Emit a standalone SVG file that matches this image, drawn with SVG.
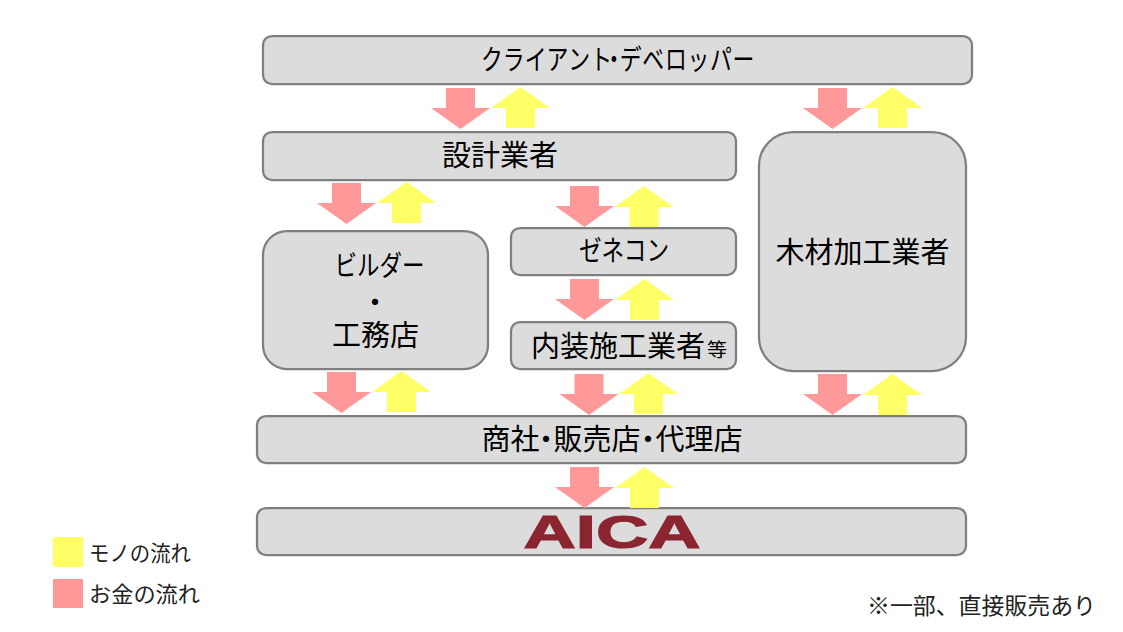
<svg xmlns="http://www.w3.org/2000/svg" width="1123" height="632" viewBox="0 0 1123 632">
<style>
text{font-family:"Noto Sans CJK JP","Noto Sans",sans-serif;fill:#000;text-anchor:middle}
.box{fill:#dcdcdc;stroke:#7f7f7f;stroke-width:2.25}
.t{font-size:29px}
.k{font-size:28px}
.s{text-anchor:start}
.l{font-size:22px;fill:#222;text-anchor:start}
.logo{font-family:"Liberation Sans",sans-serif;font-weight:700;font-size:46px;fill:#8b2530;stroke:#8b2530;stroke-width:1.2}
.pink{fill:#ff9999}
.yellow{fill:#ffff66}
</style>
<defs>
<path id="down" class="pink" d="M-14.5 0H14.5V20H29.5L0 41L-29.5 20H-14.5Z"/>
<path id="up" class="yellow" d="M0 0L29.5 21H14.5V41H-14.5V21H-29.5Z"/>
</defs>
<rect width="1123" height="632" fill="#fff"/>
<g id="node-client"><rect class="box" x="263" y="36" width="709" height="48" rx="9"/><text class="k s" transform="translate(481 70) scale(.78 1)" x="0 28 56 84 112 140 156.500 178 206.900 235.800 264.700 293.600 322.500">クライアント・デベロッパー</text></g>
<g id="node-design"><rect class="box" x="263" y="132" width="473" height="48" rx="9"/><text class="t" x="500" y="166">設計業者</text></g>
<g id="node-builder"><rect class="box" x="263" y="231" width="225" height="138" rx="24"/><text class="k" x="379.500" y="276" textLength="90" lengthAdjust="spacingAndGlyphs">ビルダー</text><text class="t s" x="360.500 332 361 390" y="313 346 346 346">・工務店</text></g>
<g id="node-genecon"><rect class="box" x="511" y="228" width="225" height="47" rx="9"/><text class="k" x="624" y="261" textLength="90" lengthAdjust="spacingAndGlyphs">ゼネコン</text></g>
<g id="node-interior"><rect class="box" x="511" y="322" width="225" height="47" rx="9"/><text class="t" x="618" y="357">内装施工業者</text><text x="717" y="357" font-size="19px" textLength="20" lengthAdjust="spacingAndGlyphs">等</text></g>
<g id="node-wood"><rect class="box" x="759" y="132" width="207" height="239" rx="34"/><text class="t" x="862.500" y="263">木材加工業者</text></g>
<g id="node-dealer"><rect class="box" x="257" y="416" width="709" height="47" rx="9"/><text class="t s" y="450" x="481.500 510.500 531.500 553.500 582.500 611.500 633.500 655.500 684.500 713.500">商社・販売店・代理店</text></g>
<g id="node-aica"><rect class="box" x="257" y="508" width="709" height="47" rx="9"/><text class="logo" x="612" y="548" textLength="177" lengthAdjust="spacingAndGlyphs">AICA</text></g>
<g id="connectors">
<use href="#down" x="460.500" y="88"/><use href="#up" x="520.500" y="87"/>
<use href="#down" x="832.500" y="88"/><use href="#up" x="892.500" y="87"/>
<use href="#down" x="346.500" y="183"/><use href="#up" x="406.500" y="182"/>
<use href="#down" x="584.500" y="186"/><use href="#up" x="644" y="186"/>
<use href="#down" x="584.500" y="279"/><use href="#up" x="644.500" y="279"/>
<use href="#down" x="341.500" y="372"/><use href="#up" x="401.500" y="371"/>
<use href="#down" x="589" y="374"/><use href="#up" x="648.500" y="373"/>
<use href="#down" x="832.500" y="374"/><use href="#up" x="892.500" y="374"/>
<use href="#down" x="584.500" y="467"/><use href="#up" x="644.500" y="467"/>
</g>
<g id="legend">
<rect class="yellow" x="53" y="537" width="30" height="30"/><text class="l" x="89" y="561" textLength="102" lengthAdjust="spacingAndGlyphs">モノの流れ</text>
<rect class="pink" x="53" y="579" width="30" height="29"/><text class="l" x="89" y="602" textLength="111" lengthAdjust="spacingAndGlyphs">お金の流れ</text>
</g>
<text class="l" style="font-size:23px" x="867" y="614" textLength="229" lengthAdjust="spacingAndGlyphs">※一部、直接販売あり</text>
</svg>
